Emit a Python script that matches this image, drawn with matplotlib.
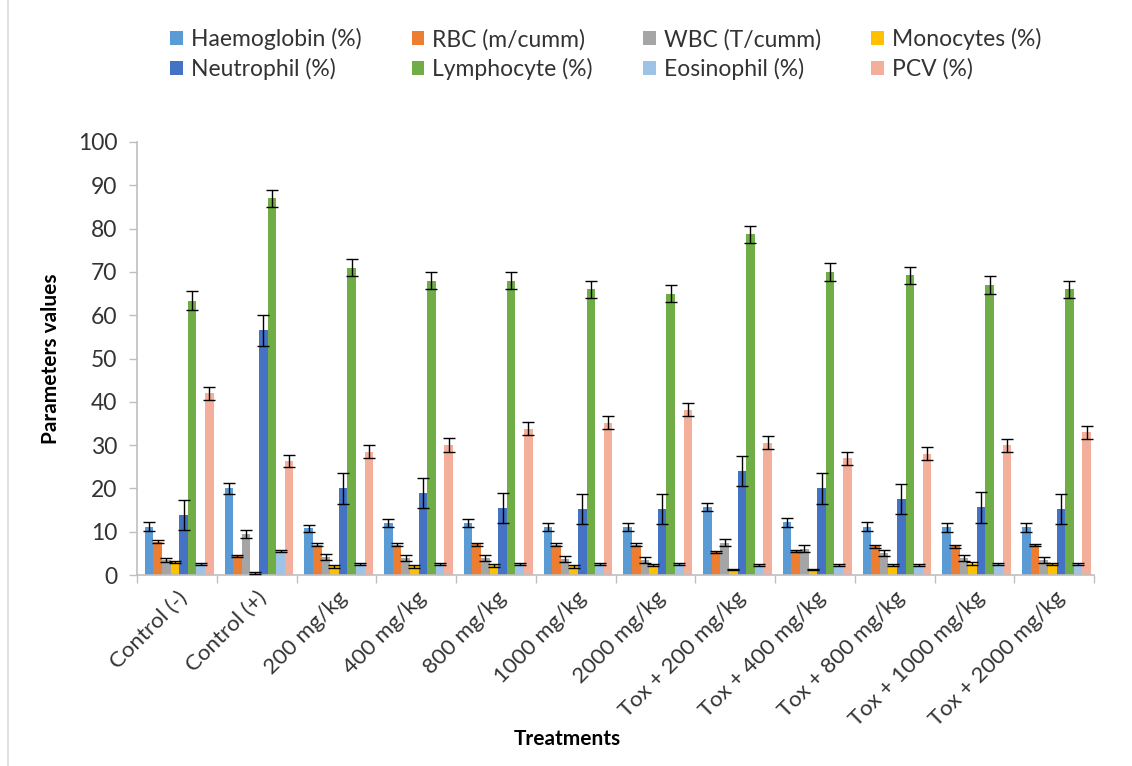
import matplotlib
matplotlib.use("Agg")
import matplotlib.pyplot as plt
import numpy as np
from matplotlib.lines import Line2D

plt.rcParams['font.family'] = ['Lato', 'DejaVu Sans']

treatments = ["Control (-)", "Control (+)", "200 mg/kg", "400 mg/kg", "800 mg/kg",
              "1000 mg/kg", "2000 mg/kg", "Tox + 200 mg/kg", "Tox + 400 mg/kg",
              "Tox + 800 mg/kg", "Tox + 1000 mg/kg", "Tox + 2000 mg/kg"]

series_names = ["Haemoglobin (%)", "RBC (m/cumm)", "WBC (T/cumm)", "Monocytes (%)",
                "Neutrophil (%)", "Lymphocyte (%)", "Eosinophil (%)", "PCV (%)"]

haemoglobin = [11.2, 20.0, 10.8, 12.0, 12.0, 11.1, 11.1, 15.7, 12.2, 11.2, 11.0, 11.0]
haemoglobin_err = [1.0, 1.2, 0.8, 1.0, 1.0, 1.0, 1.0, 1.0, 1.0, 1.0, 1.0, 1.0]
rbc = [7.7, 4.4, 7.0, 7.0, 7.1, 7.0, 7.0, 5.3, 5.5, 6.6, 6.6, 6.9]
rbc_err = [0.4, 0.3, 0.4, 0.4, 0.3, 0.3, 0.3, 0.3, 0.3, 0.4, 0.4, 0.3]
wbc = [3.5, 9.5, 4.2, 4.0, 3.9, 3.8, 3.5, 7.5, 6.1, 5.0, 3.9, 3.5]
wbc_err = [0.5, 1.0, 0.7, 0.7, 0.7, 0.7, 0.7, 0.7, 0.8, 0.7, 0.7, 0.7]
monocytes = [3.0, 0.5, 2.0, 2.0, 2.2, 2.0, 2.3, 1.3, 1.3, 2.3, 2.6, 2.5]
monocytes_err = [0.3, 0.2, 0.3, 0.3, 0.3, 0.3, 0.3, 0.2, 0.2, 0.2, 0.3, 0.3]
neutrophil = [13.8, 56.5, 20.0, 19.0, 15.4, 15.3, 15.3, 24.0, 20.0, 17.6, 15.6, 15.3]
neutrophil_err = [3.5, 3.5, 3.5, 3.5, 3.5, 3.5, 3.5, 3.5, 3.5, 3.5, 3.5, 3.5]
lymphocyte = [63.3, 87.0, 71.0, 68.0, 68.0, 66.0, 65.0, 78.7, 70.0, 69.2, 67.0, 66.0]
lymphocyte_err = [2.2, 2.0, 2.0, 2.0, 2.0, 2.0, 2.0, 2.0, 2.0, 2.0, 2.0, 2.0]
eosinophil = [2.6, 5.5, 2.5, 2.5, 2.5, 2.5, 2.5, 2.3, 2.3, 2.3, 2.5, 2.5]
eosinophil_err = [0.2, 0.2, 0.2, 0.2, 0.2, 0.2, 0.2, 0.2, 0.2, 0.2, 0.2, 0.2]
pcv = [42.0, 26.3, 28.5, 30.0, 33.8, 35.2, 38.2, 30.5, 27.0, 28.0, 30.0, 33.0]
pcv_err = [1.5, 1.3, 1.5, 1.7, 1.5, 1.5, 1.5, 1.5, 1.5, 1.5, 1.5, 1.5]

values = [haemoglobin, rbc, wbc, monocytes, neutrophil, lymphocyte, eosinophil, pcv]
errors = [haemoglobin_err, rbc_err, wbc_err, monocytes_err, neutrophil_err,
          lymphocyte_err, eosinophil_err, pcv_err]
colors = ["#5B9BD5", "#ED7D31", "#A5A5A5", "#FFC000", "#4472C4", "#70AD47",
          "#9DC3E6", "#F4AF9B"]

fig = plt.figure(figsize=(11.32, 7.66), dpi=100)
ax = fig.add_axes([137/1132, 1-575/766, (1094-137)/1132, (575-142)/766])

x = np.arange(len(treatments))
bw = 0.108
n = len(series_names)
handles = []
for i, (vals, errs, c, name) in enumerate(zip(values, errors, colors, series_names)):
    offs = (i - (n - 1) / 2) * bw + 0.03
    h = ax.bar(x + offs, vals, bw, color=c, label=name, zorder=2)
    ax.errorbar(x + offs, vals, yerr=errs, fmt='none', ecolor='black',
                elinewidth=1.0, capsize=4, capthick=1.0, zorder=3)
    handles.append(h)

ax.set_xlim(-0.5, len(treatments) - 0.5)
ax.set_ylim(0, 100)
ax.set_yticks(np.arange(0, 101, 10))
ax.set_xticks(x)
ax.set_xticklabels(treatments, rotation=45, ha='right', rotation_mode='anchor',
                   fontsize=16, color='#333333')
ax.set_xticks(np.arange(-0.5, len(treatments), 1), minor=True)
ax.tick_params(axis='x', which='major', length=0, pad=9)
ax.tick_params(axis='x', which='minor', length=6, color='#BFBFBF', width=1)
ax.tick_params(axis='y', length=6, color='#BFBFBF', width=1, labelsize=16.5,
               labelcolor='#333333', pad=8)
for s in ['top', 'right']:
    ax.spines[s].set_visible(False)
for s in ['left', 'bottom']:
    ax.spines[s].set_color('#BFBFBF')
    ax.spines[s].set_linewidth(1.2)

ax.set_ylabel("Parameters values", fontsize=15, fontweight='bold')
ax.yaxis.set_label_coords(-76/957, 0.5)
ax.set_xlabel("Treatments", fontsize=15, fontweight='bold')
ax.xaxis.set_label_coords(0.45, -0.355)

order = [0, 4, 1, 5, 2, 6, 3, 7]
leg = fig.legend([handles[i] for i in order], [series_names[i] for i in order],
                 ncol=4, loc='upper center', bbox_to_anchor=(0.535, 0.99),
                 frameon=False, fontsize=16.5, handlelength=0.55, handleheight=0.55,
                 handletextpad=0.35, columnspacing=2.2, labelspacing=0.35)
for t in leg.get_texts():
    t.set_color('#333333')

fig.lines.append(Line2D([8/1132, 8/1132], [0, 1], transform=fig.transFigure,
                        color='#D9D9D9', linewidth=1.2))

fig.savefig("out.png", dpi=100)
